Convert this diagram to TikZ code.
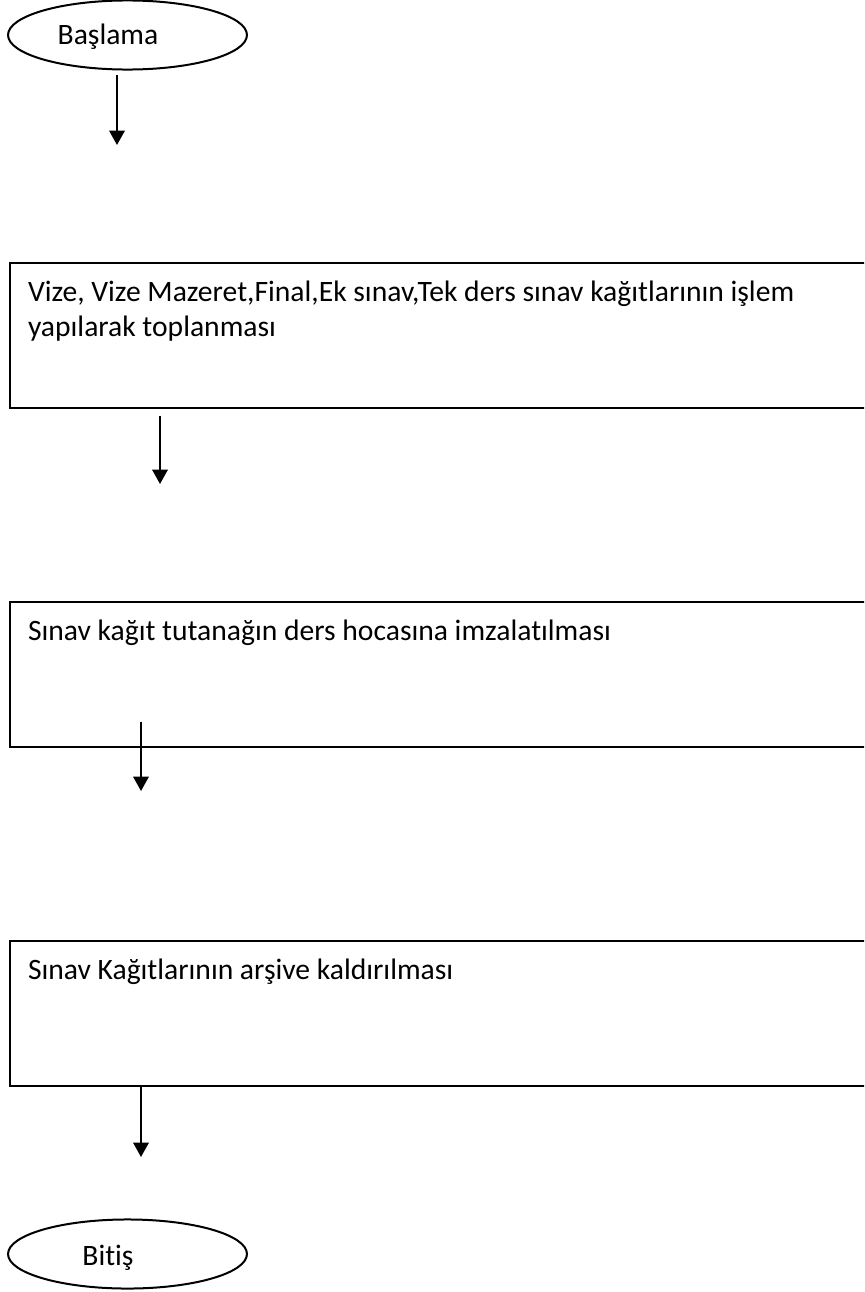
\documentclass[tikz,border=0pt]{standalone}
\usepackage{fontspec}
\setmainfont{Carlito}[Ligatures={NoCommon}]
\usetikzlibrary{arrows.meta,shapes.geometric}
\begin{document}
\begin{tikzpicture}[x=0.375pt,y=-0.375pt,
  terminal/.style={draw, ellipse, line width=0.75pt, inner sep=0pt,
    minimum width=89.6pt, minimum height=25.9pt},
  stepbox/.style={draw, rectangle, line width=0.75pt, inner sep=0pt,
    anchor=north west, minimum width=335pt, minimum height=54.4pt},
  txt/.style={inner sep=0pt, font=\fontsize{11.1pt}{13.125pt}\selectfont, align=left},
  flow/.style={line width=0.75pt, -{Triangle[width=5.8pt,length=5.4pt]}}
]
\useasboundingbox (0,0) rectangle (864,1292);
\clip (0,0) rectangle (864,1292);

% start and end terminals
\node[terminal] (start) at (127.5,35) {};
\node[txt, anchor=base] (starttext) at (108,44) {Başlama};
\node[terminal] (stop) at (127.5,1254) {};
\node[txt, anchor=base] (stoptext) at (108,1265) {Bitiş};

% process steps (right side runs off the page)
\node[stepbox] (box1) at (8.5,261.5) {};
\node[txt, anchor=base west] (text1) at (27.5,336.5)
  {Vize, Vize Mazeret,Final,Ek sınav,Tek ders sınav kağıtlarının işlem\\yapılarak toplanması};
\node[stepbox] (box2) at (8.5,600.5) {};
\node[txt, anchor=base west] (text2) at (27.5,640)
  {Sınav kağıt tutanağın ders hocasına imzalatılması};
\node[stepbox] (box3) at (8.5,940) {};
\node[txt, anchor=base west] (text3) at (27.5,979)
  {Sınav Kağıtlarının arşive kaldırılması};

% arrow ends
\coordinate (a1e) at (117,145);
\coordinate (a2e) at (160,484);
\coordinate (a3e) at (141,791);
\coordinate (a4e) at (141,1157);

\draw[flow] ([yshift=-1.5pt]start.south -| a1e) -- (a1e);
\draw[flow] ([yshift=-2.6pt]box1.south -| a2e) -- (a2e);
\draw[flow] ([yshift=9.75pt]box2.south -| a3e) -- (a3e);
\draw[flow] (box3.south -| a4e) -- (a4e);
\end{tikzpicture}
\end{document}
